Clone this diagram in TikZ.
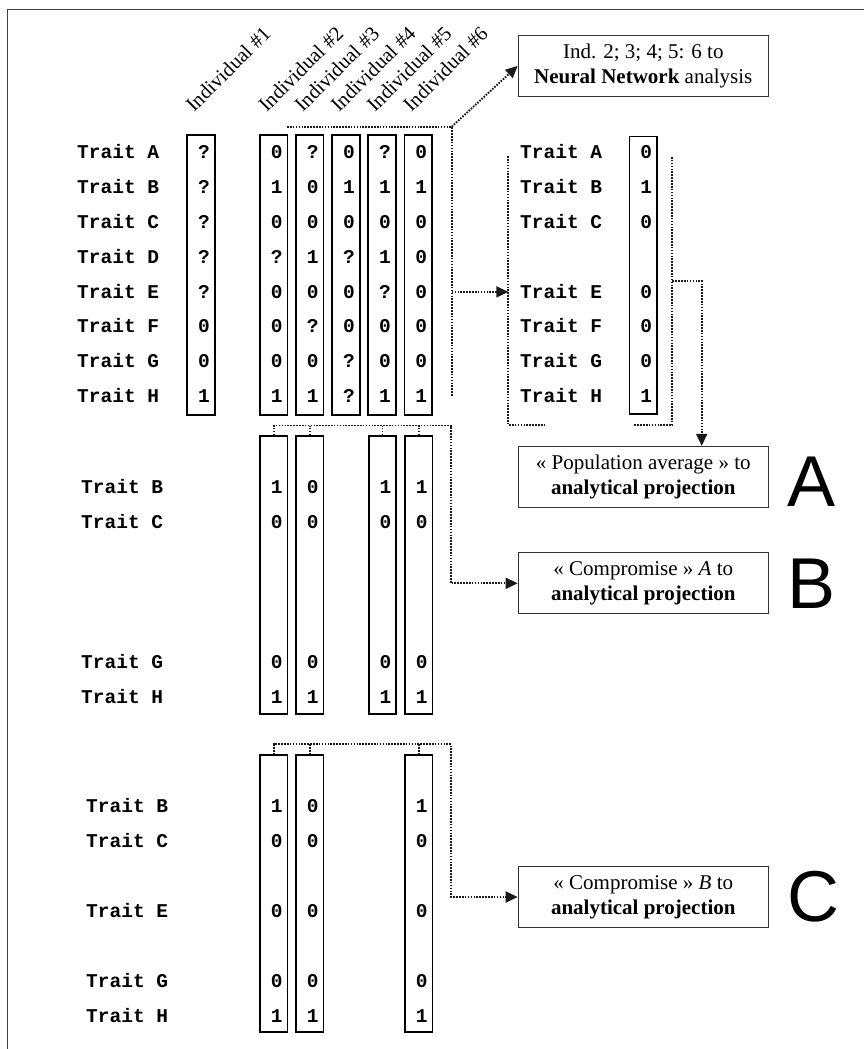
\documentclass[tikz,border=0pt]{standalone}
\usepackage{fontspec}
\setmainfont{Liberation Serif}
\setsansfont{Liberation Sans}
\setmonofont{Liberation Mono}
\usetikzlibrary{positioning,arrows.meta}

\newcommand{\traitfont}{\ttfamily\bfseries\fontsize{19.5}{19.5}\selectfont}
\newcommand{\boxfont}{\rmfamily\fontsize{21}{25}\selectfont}
\newcommand{\indfont}{\rmfamily\fontsize{20.5}{20.5}\selectfont}
\newcommand{\bigletterfont}{\sffamily\fontsize{72}{72}\selectfont}

\begin{document}
\begin{tikzpicture}[
  x=1pt, y=-1pt,
  trait/.style={font=\traitfont, anchor=west, inner sep=0pt, text height=12.5pt, text depth=0pt},
  cell/.style={font=\traitfont, inner sep=0pt, text height=12.5pt, text depth=0pt},
  colbox/.style={draw, line width=1.8pt, minimum width=27.5pt, inner sep=0pt},
  indlabel/.style={font=\indfont, rotate=45, anchor=base west, inner sep=0pt},
  textbox/.style={draw=black!80, line width=1.3pt, align=center, font=\boxfont, minimum width=250pt, minimum height=61pt, inner sep=2pt},
  bigletter/.style={font=\bigletterfont, inner sep=0pt},
  link/.style={draw=black!90, line width=1.9pt, dash pattern=on 1.6pt off 1.3pt},
  >={Triangle[length=12pt,width=11pt]}
]
  \useasboundingbox (0,0) rectangle (864,1049);
  % Frame
  \draw[black!75, line width=1pt] (864,10) -- (7,10) -- (7,1049);

  % Individuals
  \foreach \n/\x in {1/201, 2/273.7, 3/309.7, 4/346, 5/382, 6/418.3}
    \node[indlabel] (ind\n) at (\x-7,113) {Individual \#\n};

  % Full data set
  \foreach \n/\x in {1/201, 2/273.7, 3/309.7, 4/346, 5/382, 6/418.3}
    \node[colbox, minimum height=279.5pt] (top\n) at (\x,275) {};
  \foreach \t/\y/\a/\b/\c/\d/\e/\f in {A/152.7/?/0/?/0/?/0, B/187.5/?/1/0/1/1/1,
      C/222.3/?/0/0/0/0/0, D/257.1/?/?/1/?/1/0, E/291.9/?/0/0/0/?/0,
      F/326.7/0/0/?/0/0/0, G/361.5/0/0/0/?/0/0, H/396.3/1/1/1/?/1/1} {
    \node[trait] (top-\t) at (77,\y) {Trait \t};
    \node[cell] (top1-\t) at (204,\y) {\a};
    \node[cell] (top2-\t) at (276.7,\y) {\b};
    \node[cell] (top3-\t) at (312.7,\y) {\c};
    \node[cell] (top4-\t) at (349,\y) {\d};
    \node[cell] (top5-\t) at (385,\y) {\e};
    \node[cell] (top6-\t) at (421.3,\y) {\f};
  }

  % Population average
  \node[colbox, minimum height=277.5pt] (avg) at (643.2,275.3) {};
  \foreach \t/\y/\v in {A/152.7/0, B/187.5/1, C/222.3/0, E/291.9/0, F/326.7/0, G/361.5/0, H/396.3/1} {
    \node[trait] (avg-\t) at (520,\y) {Trait \t};
    \node[cell] (avgv-\t) at (646.2,\y) {\v};
  }
  \draw[link] (508.3,156) -- (508.3,425) -- (545,425);
  \draw[link] (634.3,425) -- (672.3,425) -- (672.3,156);

  % Compromise A
  \foreach \n/\x in {2/273.8, 3/309.7, 5/382.5, 6/418.8}
    \node[colbox, minimum height=278pt] (cA\n) at (\x,575) {};
  \foreach \t/\y/\a/\b/\c/\d in {B/487.7/1/0/1/1, C/522.7/0/0/0/0, G/662.7/0/0/0/0, H/697.7/1/1/1/1} {
    \node[trait] (cA-\t) at (81,\y) {Trait \t};
    \node[cell] (cA2-\t) at (276.8,\y) {\a};
    \node[cell] (cA3-\t) at (312.7,\y) {\b};
    \node[cell] (cA5-\t) at (385.5,\y) {\c};
    \node[cell] (cA6-\t) at (421.8,\y) {\d};
  }

  % Compromise B
  \foreach \n/\x in {2/273.8, 3/309.7, 6/418.8}
    \node[colbox, minimum height=277pt] (cB\n) at (\x,893.8) {};
  \foreach \t/\y/\a/\b/\c in {B/806.7/1/0/1, C/841.7/0/0/0, E/911.7/0/0/0, G/981.7/0/0/0, H/1016.7/1/1/1} {
    \node[trait] (cB-\t) at (86,\y) {Trait \t};
    \node[cell] (cB2-\t) at (276.8,\y) {\a};
    \node[cell] (cB3-\t) at (312.7,\y) {\b};
    \node[cell] (cB6-\t) at (421.8,\y) {\c};
  }

  % Outcomes
  \node[textbox] (nn) at (643.3,65.9) {Ind. 2; 3; 4; 5: 6 to\\\textbf{Neural Network} analysis};
  \node[textbox] (boxA) at (643.3,477) {« Population average » to\\\textbf{analytical projection}};
  \node[textbox] (boxB) at (643.3,583.3) {« Compromise » \textit{A} to\\\textbf{analytical projection}};
  \node[textbox] (boxC) at (643.3,897) {« Compromise » \textit{B} to\\\textbf{analytical projection}};
  \node[bigletter, right=18pt of boxA, yshift=-5pt] (letA) {A};
  \node[bigletter, right=18pt of boxB] (letB) {B};
  \node[bigletter, right=18pt of boxC] (letC) {C};

  % Connectors
  \coordinate (barN) at (287,126.7);
  \coordinate (hubN) at (451.7,126.7);
  \coordinate (hubS) at (451.7,396);
  \coordinate (hubE) at (451.7,291.9);
  \coordinate (brkE) at (508.3,291.9);
  \draw[link] (barN) -- (hubN) -- (hubS);
  \draw[link,->] (hubN) -- (nn.west);
  \draw[link,->] (hubE) -- (brkE);

  \coordinate (avgR) at (672.3,281);
  \coordinate (avgJ) at (701.7,281);
  \draw[link,->] (avgR) -- (avgJ) -- (avgJ |- boxA.north);

  \coordinate (hubB) at (451,425.5);
  \draw[link,->] (cA2.north) |- (hubB) |- (boxB.west);
  \foreach \n in {3,5,6}
    \draw[link] (cA\n.north) -- (cA\n.north |- hubB);

  \coordinate (hubC) at (451,744.3);
  \draw[link,->] (cB2.north) |- (hubC) |- (boxC.west);
  \foreach \n in {3,6}
    \draw[link] (cB\n.north) -- (cB\n.north |- hubC);
\end{tikzpicture}
\end{document}
